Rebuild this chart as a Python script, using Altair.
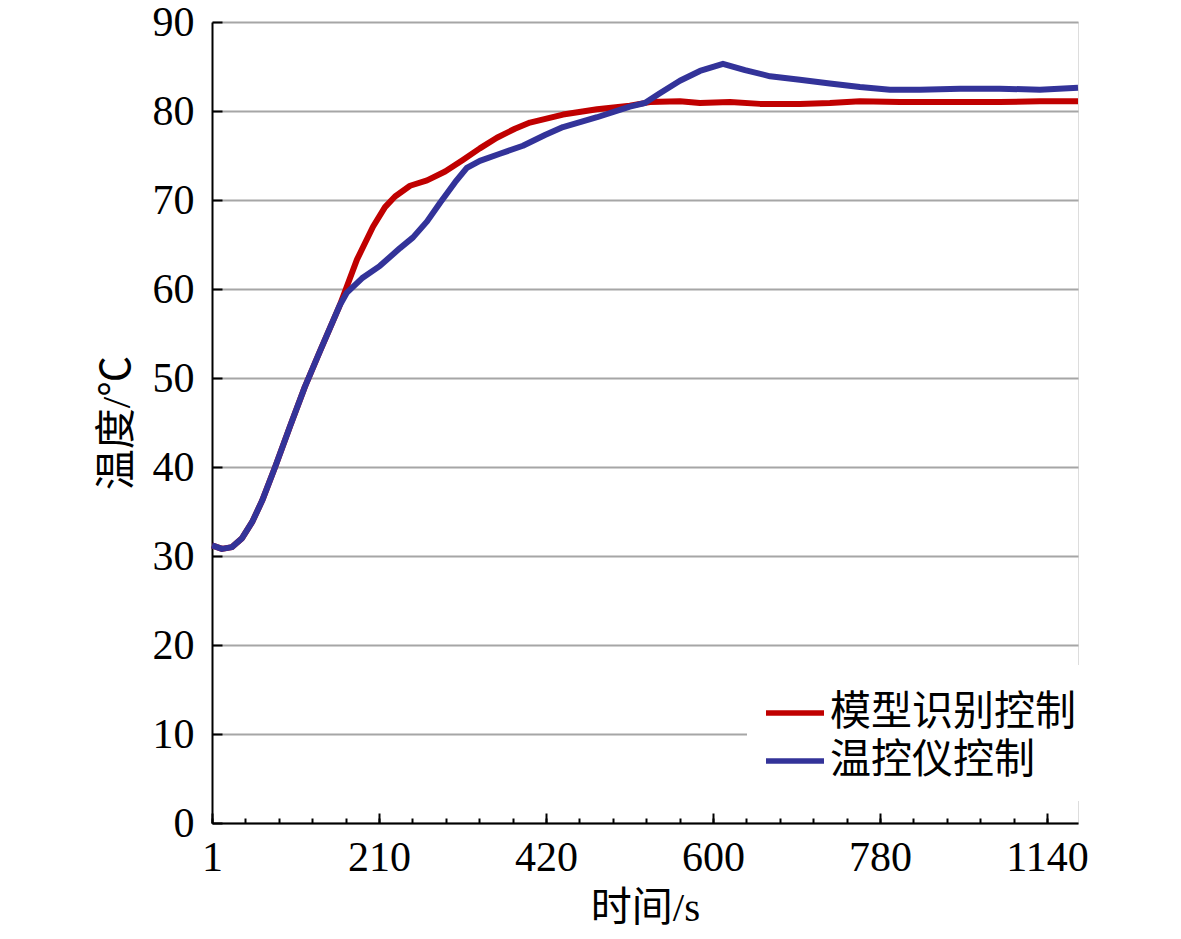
import altair as alt
import pandas as pd

# ---- data (x in minor-tick units: 5 minor units per labelled tick) ----
x_labels = ["1", "210", "420", "600", "780", "1140"]
series_names = ["模型识别控制", "温控仪控制"]
series_colors = ["#C00000", "#333399"]

shared_x = [0.00, 0.30, 0.60, 0.90, 1.20, 1.50, 1.89, 2.34, 2.78, 3.23, 3.83]
shared_y = [31.2, 30.8, 31.0, 32.0, 33.8, 36.2, 40.0, 44.6, 49.0, 53.0, 58.2]

blue_x = [4.04, 4.49, 5.03, 5.63, 6.02, 6.44, 6.83, 7.28, 7.63, 8.02, 8.62, 9.31,
          9.97, 10.51, 11.53, 12.51, 12.96, 13.41, 14.01, 14.61, 15.30, 15.96,
          16.71, 17.60, 18.50, 19.40, 20.30, 21.20, 22.40, 23.59, 24.79, 25.93]
blue_y = [59.6, 61.2, 62.6, 64.6, 65.8, 67.6, 69.7, 72.0, 73.6, 74.4, 75.2, 76.1,
          77.3, 78.2, 79.3, 80.5, 80.9, 82.0, 83.4, 84.5, 85.3, 84.6,
          83.9, 83.5, 83.1, 82.7, 82.4, 82.4, 82.5, 82.5, 82.4, 82.6]

red_x = [4.34, 4.82, 5.18, 5.48, 5.93, 6.44, 6.98, 7.51, 8.02, 8.53, 9.07, 9.52,
         10.51, 11.53, 12.51, 13.11, 14.01, 14.61, 15.51, 16.41, 17.60, 18.50,
         19.40, 20.60, 22.10, 23.59, 24.79, 25.93]
red_y = [63.3, 67.0, 69.2, 70.4, 71.6, 72.2, 73.2, 74.5, 75.8, 77.0, 78.0, 78.7,
         79.6, 80.2, 80.6, 81.0, 81.1, 80.9, 81.0, 80.8, 80.8, 80.9,
         81.1, 81.0, 81.0, 81.0, 81.1, 81.1]

rows = []
for i, (x, y) in enumerate(zip(shared_x + red_x, shared_y + red_y)):
    rows.append({"t": x, "temp": y, "series": series_names[0], "idx": i})
for i, (x, y) in enumerate(zip(shared_x + blue_x, shared_y + blue_y)):
    rows.append({"t": x, "temp": y, "series": series_names[1], "idx": i})
df = pd.DataFrame(rows)

FONT = "Liberation Serif, Noto Sans CJK SC"
XMAX = 25.93

xscale = alt.Scale(domain=[0, XMAX], nice=False, zero=False)
yscale = alt.Scale(domain=[0, 90], nice=False)

label_arr = "[" + ",".join("'" + s + "'" for s in x_labels) + "]"

color = alt.Color(
    "series:N",
    scale=alt.Scale(domain=series_names, range=series_colors),
    legend=alt.Legend(
        orient="none", legendX=535, legendY=643, title=None,
        fillColor="white", padding=20,
        symbolType="M-1.16,0H1.16", symbolStrokeWidth=5.5, symbolSize=2500,
        labelFont=FONT, labelFontSize=41, labelColor="black",
        labelOffset=7, rowPadding=0, labelLimit=500,
    ),
)

base = alt.Chart(df)

red = base.transform_filter(alt.datum.series == series_names[0]).mark_line(
    strokeWidth=6, strokeJoin="round"
).encode(
    x=alt.X("t:Q", scale=xscale, axis=alt.Axis(
        orient="bottom", values=[0, 5, 10, 15, 20, 25],
        labelExpr=label_arr + "[round(datum.value/5)]",
        tickSize={"expr": "-10"}, tickColor="black", tickWidth=2,
        domainColor="black", domainWidth=2, grid=False,
        labelFont=FONT, labelFontSize=42, labelColor="black", labelPadding=24.5,
        labelFlush=False,
        title="时间/s", titleFont=FONT, titleFontSize=41, titleFontWeight="normal",
        titleColor="black", titlePadding=10,
    )),
    y=alt.Y("temp:Q", scale=yscale, axis=alt.Axis(
        values=list(range(0, 91, 10)),
        tickSize={"expr": "-10"}, tickColor="black", tickWidth=2,
        domainColor="black", domainWidth=2,
        grid=True, gridColor="#A6A6A6", gridWidth=2,
        labelFont=FONT, labelFontSize=42, labelColor="black", labelPadding=28,
        title="温度/℃", titleFont=FONT, titleFontSize=41, titleFontWeight="normal",
        titleColor="black", titlePadding=14,
    )),
    color=color,
    order="idx:Q",
)

blue = base.transform_filter(alt.datum.series == series_names[1]).mark_line(
    strokeWidth=6, strokeJoin="round"
).encode(
    x=alt.X("t:Q", scale=xscale, axis=alt.Axis(
        orient="bottom", values=list(range(0, 26)),
        tickSize={"expr": "-5"}, tickColor="black", tickWidth=2,
        domain=False, grid=False, labels=False, title=None,
    )),
    y=alt.Y("temp:Q", scale=yscale, axis=None),
    color=color,
    order="idx:Q",
)

chart = alt.layer(red, blue).resolve_axis(x="independent", y="independent").properties(
    width=866, height=801,
    autosize=alt.AutoSizeParams(type="none"),
    padding={"left": 204, "top": 14, "right": 80, "bottom": 108},
).configure_view(stroke=None).configure(background="white")

chart.save("out.html", embed_options={"renderer": "svg", "actions": False})
